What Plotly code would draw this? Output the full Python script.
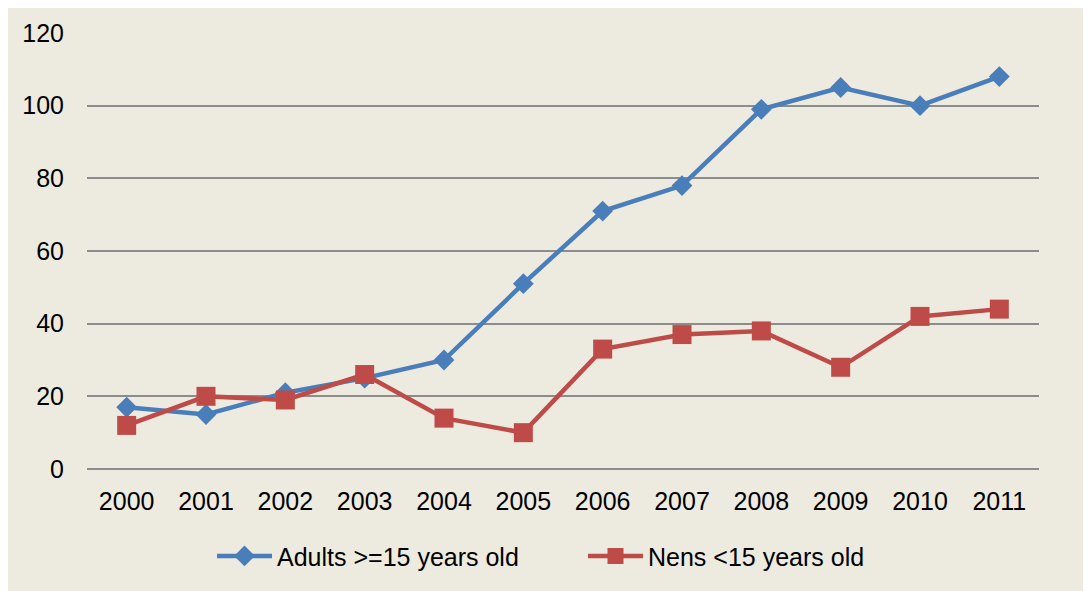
import plotly.graph_objects as go

years = ["2000", "2001", "2002", "2003", "2004", "2005", "2006", "2007", "2008", "2009", "2010", "2011"]
adults = [17, 15, 21, 25, 30, 51, 71, 78, 99, 105, 100, 108]
nens = [12, 20, 19, 26, 14, 10, 33, 37, 38, 28, 42, 44]
y_ticks = [0, 20, 40, 60, 80, 100, 120]

BG = "#EDEBE0"
BLUE = "#4A7EBB"
RED = "#BE4B48"
GRID = "#8C8C8C"

fig = go.Figure()
fig.add_trace(go.Scatter(
    x=years, y=adults, name="Adults >=15 years old", mode="lines+markers",
    line=dict(color=BLUE, width=4.5),
    marker=dict(symbol="diamond", size=16, color=BLUE),
))
fig.add_trace(go.Scatter(
    x=years, y=nens, name="Nens <15 years old", mode="lines+markers",
    line=dict(color=RED, width=4.5),
    marker=dict(symbol="square", size=19, color=RED),
))

fig.update_layout(
    width=1083, height=583,
    margin=dict(l=79, r=52, t=25, b=114),
    paper_bgcolor=BG,
    plot_bgcolor=BG,
    font=dict(family="Liberation Sans, Arial, sans-serif", size=25, color="#000000"),
    showlegend=True,
    legend=dict(orientation="h", x=0.1313, xanchor="left", y=-0.2, yanchor="middle",
                bgcolor="rgba(0,0,0,0)", font=dict(size=25), itemwidth=55,
                entrywidth=301, tracegroupgap=0),
    xaxis=dict(type="category", range=[-0.5, len(years) - 0.5], showgrid=False,
               zeroline=False, showline=False,
               ticks="", ticklabelstandoff=15, fixedrange=True),
    yaxis=dict(range=[0, 120], tickvals=y_ticks, showgrid=True, gridcolor=GRID,
               gridwidth=1.5, zeroline=True, zerolinecolor=GRID, zerolinewidth=1.5,
               showline=False, ticks="", ticklabelstandoff=22, fixedrange=True),
)

fig.write_html("out.html")
